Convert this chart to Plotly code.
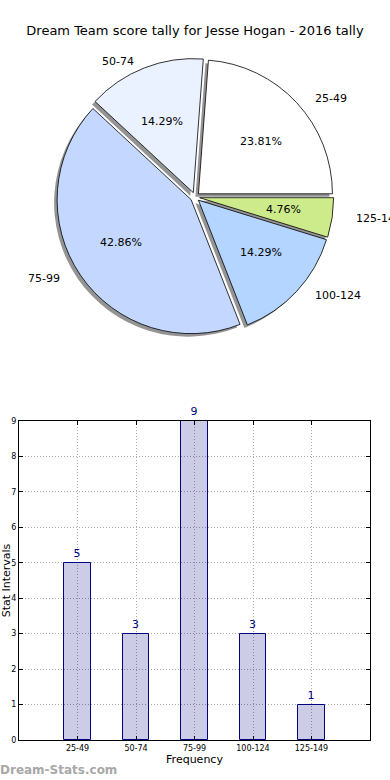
import math
import plotly.graph_objects as go

# ---- data ----
categories = ["25-49", "50-74", "75-99", "100-124", "125-149"]
counts = [5, 3, 9, 3, 1]
pie_colors = ["#FFFFFF", "#EAF1FF", "#C4D8FF", "#B3D5FF", "#CDEB8B"]
y_ticks = list(range(0, 10))
title_text = "Dream Team score tally for Jesse Hogan - 2016 tally"

W, H = 390, 780
FONT = "DejaVu Sans"

# pie geometry (pixels)
cx_px, cy_px = 195, 197
r_px = 134
pull = 0.035
half = r_px * (1 + pull)

total = sum(counts)
# first slice starts at 3 o'clock and the pie runs counterclockwise
start_rotation = 90 - 360 * counts[0] / total


def dom(cx, cy):
    return dict(x=[(cx - half) / W, (cx + half) / W],
                y=[1 - (cy + half) / H, 1 - (cy - half) / H])


fig = go.Figure()

# shadow pie
fig.add_trace(go.Pie(
    labels=categories, values=counts, sort=False,
    direction="counterclockwise", rotation=start_rotation,
    pull=[pull] * len(counts),
    marker=dict(colors=["rgba(0,0,0,0.42)"] * len(counts), line=dict(width=0)),
    textinfo="none", hoverinfo="skip", showlegend=False,
    domain=dom(cx_px - 3, cy_px + 3),
))
# main pie
fig.add_trace(go.Pie(
    labels=categories, values=counts, sort=False,
    direction="counterclockwise", rotation=start_rotation,
    pull=[pull] * len(counts),
    marker=dict(colors=pie_colors, line=dict(color="black", width=0.8)),
    textinfo="none", showlegend=False,
    domain=dom(cx_px, cy_px),
))

# labels & percentages placed like matplotlib (computed from data)
rx, ry = 141.5, 128.0
cum = 0
for cat, v in zip(categories, counts):
    frac = v / total
    th = 2 * math.pi * (cum + frac / 2)
    cum += frac
    c, s = math.cos(th), math.sin(th)
    lx = cx_px + (1.1 + pull) * rx * c
    ly = cy_px - (1.1 + pull) * ry * s
    fig.add_annotation(x=lx / W, y=1 - ly / H, xref="paper", yref="paper",
                       text=cat, showarrow=False,
                       xanchor="left" if c > 0 else "right", yanchor="middle",
                       font=dict(family=FONT, size=11, color="black"))
    px_ = cx_px + (0.6 + pull) * rx * c
    py_ = cy_px - (0.6 + pull) * ry * s
    fig.add_annotation(x=px_ / W, y=1 - py_ / H, xref="paper", yref="paper",
                       text=f"{frac * 100:.2f}%", showarrow=False,
                       xanchor="center", yanchor="middle",
                       font=dict(family=FONT, size=11, color="black"))

# bar chart
fig.add_trace(go.Bar(
    x=categories, y=counts, width=0.45,
    marker=dict(color="rgba(0,0,128,0.2)", line=dict(color="#000080", width=1)),
    text=[str(c) for c in counts], textposition="outside",
    textfont=dict(family=FONT, size=11, color="#000080"),
    cliponaxis=False, showlegend=False,
))

ax_common = dict(showline=True, linecolor="black", linewidth=1, mirror="allticks",
                 ticks="inside", ticklen=4, tickcolor="black",
                 showgrid=True, gridcolor="#a8a8a8", griddash="1px,2px", gridwidth=1,
                 zeroline=False)

fig.update_layout(
    width=W, height=H,
    margin=dict(l=0, r=0, t=0, b=0),
    paper_bgcolor="white", plot_bgcolor="white",
    font=dict(family=FONT, color="black"),
    title=dict(text=title_text, x=0.5, xanchor="center", y=1 - 30 / H, yanchor="middle",
               font=dict(family=FONT, size=13, color="black")),
    xaxis=dict(domain=[19 / W, 370 / W], range=[-1, 5], type="category",
               tickfont=dict(family=FONT, size=8),
               title=dict(text="Frequency", font=dict(family=FONT, size=11), standoff=2),
               automargin=False, **ax_common),
    yaxis=dict(domain=[40 / H, 359 / H], range=[0, 9], tickvals=y_ticks,
               tickfont=dict(family=FONT, size=8),
               title=dict(text="Stat Intervals", font=dict(family=FONT, size=11), standoff=0),
               automargin=False, **ax_common),
    bargap=0,
)

fig.add_annotation(x=-2 / W, y=1 - 770 / H, xref="paper", yref="paper",
                   text="<b>Dream-Stats.com</b>", showarrow=False,
                   xanchor="left", yanchor="middle",
                   font=dict(family=FONT, size=12, color="#a8a8a8"))

fig.write_html("out.html", config={"displayModeBar": False},
               post_script="document.body.style.margin='0';")
